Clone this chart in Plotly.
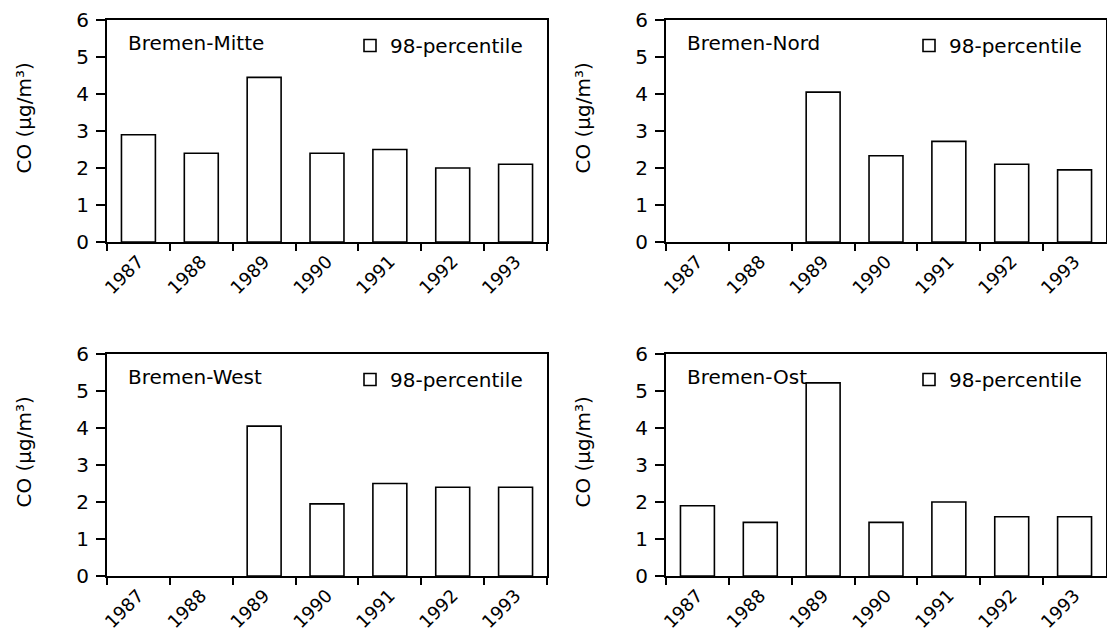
import plotly.graph_objects as go

# ---- data ----
years = ["1987", "1988", "1989", "1990", "1991", "1992", "1993"]
mitte = [2.9, 2.4, 4.45, 2.4, 2.5, 2.0, 2.1]
nord = [None, None, 4.05, 2.33, 2.72, 2.1, 1.95]
west = [None, None, 4.05, 1.95, 2.5, 2.4, 2.4]
ost = [1.9, 1.45, 5.22, 1.45, 2.0, 1.6, 1.6]
stations = ["Bremen-Mitte", "Bremen-Nord", "Bremen-West", "Bremen-Ost"]
series_name = "98-percentile"
y_title = "CO (µg/m³)"
y_ticks = [0, 1, 2, 3, 4, 5, 6]

values = [mitte, nord, west, ost]

W, H = 1107, 639
FONT = "DejaVu Sans"
# panel pixel boxes: x0, x1, top, bottom
boxes = [(107, 547, 20, 242), (666, 1106, 20, 242),
         (107, 547, 354, 576), (666, 1106, 354, 576)]

fig = go.Figure()
layout = dict(
    width=W, height=H,
    margin=dict(l=0, r=0, t=0, b=0, pad=0, autoexpand=False),
    paper_bgcolor="white", plot_bgcolor="white",
    font=dict(family=FONT, size=20, color="black"),
    bargap=0.46,
    annotations=[],
)

for i, (st, vals, (x0, x1, top, bot)) in enumerate(zip(stations, values, boxes)):
    n = "" if i == 0 else str(i + 1)
    leg = "legend" if i == 0 else f"legend{i+1}"
    fig.add_trace(go.Bar(
        x=years, y=vals, name=series_name,
        xaxis="x" + n, yaxis="y" + n,
        marker=dict(color="white", line=dict(color="black", width=1.6)),
        legend=leg, showlegend=True,
    ))
    layout["xaxis" + n] = dict(
        domain=[x0 / W, x1 / W], anchor="y" + n,
        type="category", range=[-0.5, 6.5],
        tickson="boundaries", ticks="outside", ticklen=7, tickwidth=1.5,
        tickcolor="black",
        showline=True, linecolor="black", linewidth=2, mirror=True,
        showgrid=False, zeroline=False, automargin=False,
        tickangle=-45, tickfont=dict(family=FONT, size=18),
    )
    layout["yaxis" + n] = dict(
        domain=[1 - bot / H, 1 - top / H], anchor="x" + n,
        range=[0, 6], tickvals=y_ticks,
        ticks="outside", ticklen=9, tickwidth=1.5, tickcolor="black",
        showline=True, linecolor="black", linewidth=2, mirror=True,
        showgrid=False, zeroline=False, automargin=False,
        tickfont=dict(family=FONT, size=20),
        ticklabelstandoff=3,
    )
    pw = x1 - x0
    ph = bot - top
    layout["annotations"].append(dict(
        text=y_title, textangle=-90, showarrow=False,
        xref=f"x{n} domain", yref=f"y{n} domain",
        x=-84 / pw, y=1 - 98.5 / ph, xanchor="center", yanchor="middle",
        font=dict(family=FONT, size=20),
    ))
    layout["annotations"].append(dict(
        text=st, showarrow=False,
        xref=f"x{n} domain", yref=f"y{n} domain",
        x=19 / pw, y=1 - 23 / ph, xanchor="left", yanchor="middle",
        font=dict(family=FONT, size=20),
    ))
    layout[leg] = dict(
        x=(x0 + 243) / W, y=1 - (top + 6) / H,
        xanchor="left", yanchor="top",
        bgcolor="rgba(0,0,0,0)", borderwidth=0,
        font=dict(family=FONT, size=20),
    )

fig.update_layout(**layout)
fig.write_html(
    "out.html",
    config={"displayModeBar": False},
    post_script="document.body.style.margin='0';document.body.style.overflow='hidden';",
)
